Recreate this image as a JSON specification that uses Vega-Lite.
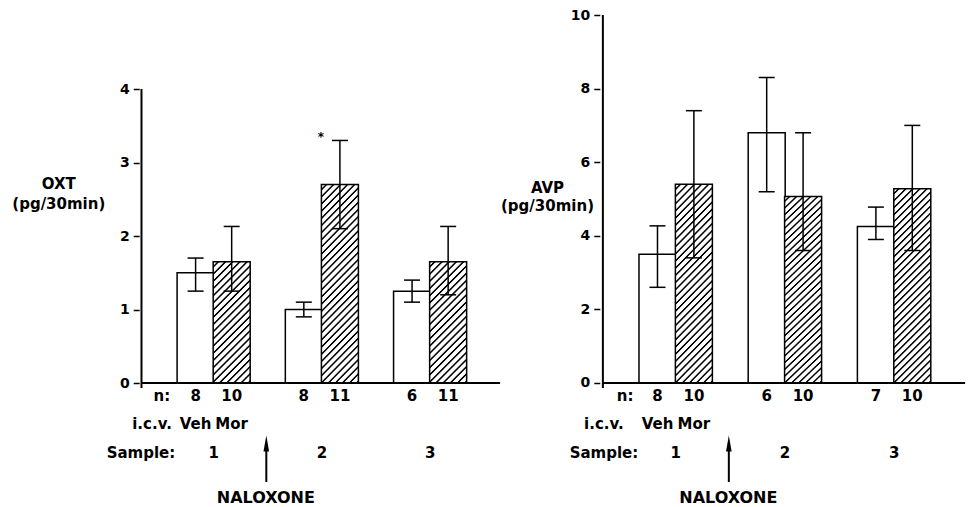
{
  "$schema": "https://vega.github.io/schema/vega-lite/v6.json",
  "padding": 0,
  "spacing": 0,
  "bounds": "flush",
  "background": "white",
  "config": {"view": {"stroke": null}, "font": "DejaVu Sans"},
  "datasets": {
    "oxt": [
      {"sample": 1, "trt": "Veh", "slot": 1.5, "mean": 1.5, "lo": 1.25, "hi": 1.7, "n": 8, "sig": ""},
      {"sample": 1, "trt": "Mor", "slot": 2.5, "mean": 1.65, "lo": 1.25, "hi": 2.13, "n": 10, "sig": ""},
      {"sample": 2, "trt": "Veh", "slot": 4.5, "mean": 1.0, "lo": 0.9, "hi": 1.1, "n": 8, "sig": ""},
      {"sample": 2, "trt": "Mor", "slot": 5.5, "mean": 2.7, "lo": 2.1, "hi": 3.3, "n": 11, "sig": "*"},
      {"sample": 3, "trt": "Veh", "slot": 7.5, "mean": 1.25, "lo": 1.1, "hi": 1.4, "n": 6, "sig": ""},
      {"sample": 3, "trt": "Mor", "slot": 8.5, "mean": 1.65, "lo": 1.2, "hi": 2.13, "n": 11, "sig": ""}
    ],
    "avp": [
      {"sample": 1, "trt": "Veh", "slot": 1.5, "mean": 3.5, "lo": 2.6, "hi": 4.27, "n": 8},
      {"sample": 1, "trt": "Mor", "slot": 2.5, "mean": 5.4, "lo": 3.4, "hi": 7.4, "n": 10},
      {"sample": 2, "trt": "Veh", "slot": 4.5, "mean": 6.8, "lo": 5.2, "hi": 8.3, "n": 6},
      {"sample": 2, "trt": "Mor", "slot": 5.5, "mean": 5.07, "lo": 3.6, "hi": 6.8, "n": 10},
      {"sample": 3, "trt": "Veh", "slot": 7.5, "mean": 4.25, "lo": 3.9, "hi": 4.78, "n": 7},
      {"sample": 3, "trt": "Mor", "slot": 8.5, "mean": 5.28, "lo": 3.6, "hi": 7.0, "n": 10}
    ]
  },
  "hconcat": [
    {
      "width": 510,
      "height": 507,
      "data": {"name": "oxt"},
      "layer": [
        {
          "transform": [{"filter": "datum.trt == 'Veh'"}],
          "mark": {"type": "bar", "size": 37, "fill": "white", "stroke": "black", "strokeWidth": 1.5},
          "encoding": {
            "x": {"field": "slot", "type": "quantitative", "scale": {"domain": [-3.783, 10.076], "nice": false, "zero": false}, "axis": null},
            "y": {"field": "mean", "type": "quantitative", "scale": {"domain": [-1.687, 5.211], "nice": false, "zero": false},
              "axis": {"values": [0, 1, 2, 3, 4], "format": "d", "offset": -139.2, "domain": false, "grid": false, "tickSize": 6, "tickWidth": 1.5, "tickColor": "black",
                "labelFont": "DejaVu Sans", "labelFontWeight": "bold", "labelFontSize": 14, "labelColor": "black", "labelPadding": 4,
                "title": ["OXT", "(pg/30min)"], "titleAngle": 0, "titleAlign": "center", "titleBaseline": "alphabetic", "titleX": -80.9, "titleY": 188.5,
                "titleLineHeight": 19.5, "titleFont": "DejaVu Sans", "titleFontSize": 15, "titleFontWeight": "bold", "titleColor": "black"}},
            "y2": {"datum": 0}
          }
        },
        {
          "transform": [{"filter": "datum.trt == 'Mor' && datum.mean < 2"}],
          "mark": {"type": "bar", "size": 37, "stroke": "black", "strokeWidth": 1.5,
            "fill": {"gradient": "linear", "x1": 0, "y1": 0, "x2": 0.3652, "y2": 1.1941, "stops": [
              {"offset": 0, "color": "#fff"},
              {"offset": 0.0227, "color": "#fff"}, {"offset": 0.0295, "color": "#000"}, {"offset": 0.0364, "color": "#000"}, {"offset": 0.0432, "color": "#fff"},
              {"offset": 0.0682, "color": "#fff"}, {"offset": 0.075, "color": "#000"}, {"offset": 0.0819, "color": "#000"}, {"offset": 0.0887, "color": "#fff"},
              {"offset": 0.1136, "color": "#fff"}, {"offset": 0.1204, "color": "#000"}, {"offset": 0.1273, "color": "#000"}, {"offset": 0.1341, "color": "#fff"},
              {"offset": 0.1591, "color": "#fff"}, {"offset": 0.1659, "color": "#000"}, {"offset": 0.1728, "color": "#000"}, {"offset": 0.1796, "color": "#fff"},
              {"offset": 0.2045, "color": "#fff"}, {"offset": 0.2113, "color": "#000"}, {"offset": 0.2182, "color": "#000"}, {"offset": 0.225, "color": "#fff"},
              {"offset": 0.25, "color": "#fff"}, {"offset": 0.2568, "color": "#000"}, {"offset": 0.2637, "color": "#000"}, {"offset": 0.2705, "color": "#fff"},
              {"offset": 0.2954, "color": "#fff"}, {"offset": 0.3022, "color": "#000"}, {"offset": 0.3091, "color": "#000"}, {"offset": 0.3159, "color": "#fff"},
              {"offset": 0.3409, "color": "#fff"}, {"offset": 0.3477, "color": "#000"}, {"offset": 0.3546, "color": "#000"}, {"offset": 0.3614, "color": "#fff"},
              {"offset": 0.3863, "color": "#fff"}, {"offset": 0.3931, "color": "#000"}, {"offset": 0.4, "color": "#000"}, {"offset": 0.4068, "color": "#fff"},
              {"offset": 0.4318, "color": "#fff"}, {"offset": 0.4386, "color": "#000"}, {"offset": 0.4455, "color": "#000"}, {"offset": 0.4523, "color": "#fff"},
              {"offset": 0.4772, "color": "#fff"}, {"offset": 0.484, "color": "#000"}, {"offset": 0.4909, "color": "#000"}, {"offset": 0.4977, "color": "#fff"},
              {"offset": 0.5227, "color": "#fff"}, {"offset": 0.5295, "color": "#000"}, {"offset": 0.5364, "color": "#000"}, {"offset": 0.5432, "color": "#fff"},
              {"offset": 0.5682, "color": "#fff"}, {"offset": 0.575, "color": "#000"}, {"offset": 0.5819, "color": "#000"}, {"offset": 0.5887, "color": "#fff"},
              {"offset": 0.6136, "color": "#fff"}, {"offset": 0.6204, "color": "#000"}, {"offset": 0.6273, "color": "#000"}, {"offset": 0.6341, "color": "#fff"},
              {"offset": 0.6591, "color": "#fff"}, {"offset": 0.6659, "color": "#000"}, {"offset": 0.6728, "color": "#000"}, {"offset": 0.6796, "color": "#fff"},
              {"offset": 0.7045, "color": "#fff"}, {"offset": 0.7113, "color": "#000"}, {"offset": 0.7182, "color": "#000"}, {"offset": 0.725, "color": "#fff"},
              {"offset": 0.75, "color": "#fff"}, {"offset": 0.7568, "color": "#000"}, {"offset": 0.7637, "color": "#000"}, {"offset": 0.7705, "color": "#fff"},
              {"offset": 0.7954, "color": "#fff"}, {"offset": 0.8022, "color": "#000"}, {"offset": 0.8091, "color": "#000"}, {"offset": 0.8159, "color": "#fff"},
              {"offset": 0.8409, "color": "#fff"}, {"offset": 0.8477, "color": "#000"}, {"offset": 0.8546, "color": "#000"}, {"offset": 0.8614, "color": "#fff"},
              {"offset": 0.8863, "color": "#fff"}, {"offset": 0.8931, "color": "#000"}, {"offset": 0.9, "color": "#000"}, {"offset": 0.9068, "color": "#fff"},
              {"offset": 0.9318, "color": "#fff"}, {"offset": 0.9386, "color": "#000"}, {"offset": 0.9455, "color": "#000"}, {"offset": 0.9523, "color": "#fff"},
              {"offset": 0.9772, "color": "#fff"}, {"offset": 0.984, "color": "#000"}, {"offset": 0.9909, "color": "#000"}, {"offset": 0.9977, "color": "#fff"},
              {"offset": 1, "color": "#fff"}
            ]}},
          "encoding": {
            "x": {"field": "slot", "type": "quantitative", "axis": null},
            "y": {"field": "mean", "type": "quantitative"},
            "y2": {"datum": 0}
          }
        },
        {
          "transform": [{"filter": "datum.trt == 'Mor' && datum.mean >= 2"}],
          "mark": {"type": "bar", "size": 37, "stroke": "black", "strokeWidth": 1.5,
            "fill": {"gradient": "linear", "x1": 0, "y1": 0, "x2": 0.2179, "y2": 1.1484, "stops": [
              {"offset": 0, "color": "#fff"},
              {"offset": 0.0152, "color": "#fff"}, {"offset": 0.0197, "color": "#000"}, {"offset": 0.0242, "color": "#000"}, {"offset": 0.0288, "color": "#fff"},
              {"offset": 0.0455, "color": "#fff"}, {"offset": 0.05, "color": "#000"}, {"offset": 0.0545, "color": "#000"}, {"offset": 0.0591, "color": "#fff"},
              {"offset": 0.0758, "color": "#fff"}, {"offset": 0.0803, "color": "#000"}, {"offset": 0.0848, "color": "#000"}, {"offset": 0.0894, "color": "#fff"},
              {"offset": 0.1061, "color": "#fff"}, {"offset": 0.1106, "color": "#000"}, {"offset": 0.1151, "color": "#000"}, {"offset": 0.1197, "color": "#fff"},
              {"offset": 0.1364, "color": "#fff"}, {"offset": 0.1409, "color": "#000"}, {"offset": 0.1454, "color": "#000"}, {"offset": 0.15, "color": "#fff"},
              {"offset": 0.1667, "color": "#fff"}, {"offset": 0.1712, "color": "#000"}, {"offset": 0.1757, "color": "#000"}, {"offset": 0.1803, "color": "#fff"},
              {"offset": 0.197, "color": "#fff"}, {"offset": 0.2015, "color": "#000"}, {"offset": 0.206, "color": "#000"}, {"offset": 0.2106, "color": "#fff"},
              {"offset": 0.2273, "color": "#fff"}, {"offset": 0.2318, "color": "#000"}, {"offset": 0.2363, "color": "#000"}, {"offset": 0.2409, "color": "#fff"},
              {"offset": 0.2576, "color": "#fff"}, {"offset": 0.2621, "color": "#000"}, {"offset": 0.2666, "color": "#000"}, {"offset": 0.2712, "color": "#fff"},
              {"offset": 0.2879, "color": "#fff"}, {"offset": 0.2924, "color": "#000"}, {"offset": 0.2969, "color": "#000"}, {"offset": 0.3015, "color": "#fff"},
              {"offset": 0.3182, "color": "#fff"}, {"offset": 0.3227, "color": "#000"}, {"offset": 0.3272, "color": "#000"}, {"offset": 0.3318, "color": "#fff"},
              {"offset": 0.3485, "color": "#fff"}, {"offset": 0.353, "color": "#000"}, {"offset": 0.3575, "color": "#000"}, {"offset": 0.3621, "color": "#fff"},
              {"offset": 0.3788, "color": "#fff"}, {"offset": 0.3833, "color": "#000"}, {"offset": 0.3878, "color": "#000"}, {"offset": 0.3924, "color": "#fff"},
              {"offset": 0.4091, "color": "#fff"}, {"offset": 0.4136, "color": "#000"}, {"offset": 0.4181, "color": "#000"}, {"offset": 0.4227, "color": "#fff"},
              {"offset": 0.4394, "color": "#fff"}, {"offset": 0.4439, "color": "#000"}, {"offset": 0.4484, "color": "#000"}, {"offset": 0.453, "color": "#fff"},
              {"offset": 0.4697, "color": "#fff"}, {"offset": 0.4742, "color": "#000"}, {"offset": 0.4787, "color": "#000"}, {"offset": 0.4833, "color": "#fff"},
              {"offset": 0.5, "color": "#fff"}, {"offset": 0.5045, "color": "#000"}, {"offset": 0.509, "color": "#000"}, {"offset": 0.5136, "color": "#fff"},
              {"offset": 0.5304, "color": "#fff"}, {"offset": 0.5349, "color": "#000"}, {"offset": 0.5394, "color": "#000"}, {"offset": 0.544, "color": "#fff"},
              {"offset": 0.5607, "color": "#fff"}, {"offset": 0.5652, "color": "#000"}, {"offset": 0.5697, "color": "#000"}, {"offset": 0.5743, "color": "#fff"},
              {"offset": 0.591, "color": "#fff"}, {"offset": 0.5955, "color": "#000"}, {"offset": 0.6, "color": "#000"}, {"offset": 0.6046, "color": "#fff"},
              {"offset": 0.6213, "color": "#fff"}, {"offset": 0.6258, "color": "#000"}, {"offset": 0.6303, "color": "#000"}, {"offset": 0.6349, "color": "#fff"},
              {"offset": 0.6516, "color": "#fff"}, {"offset": 0.6561, "color": "#000"}, {"offset": 0.6606, "color": "#000"}, {"offset": 0.6652, "color": "#fff"},
              {"offset": 0.6819, "color": "#fff"}, {"offset": 0.6864, "color": "#000"}, {"offset": 0.6909, "color": "#000"}, {"offset": 0.6955, "color": "#fff"},
              {"offset": 0.7122, "color": "#fff"}, {"offset": 0.7167, "color": "#000"}, {"offset": 0.7212, "color": "#000"}, {"offset": 0.7258, "color": "#fff"},
              {"offset": 0.7425, "color": "#fff"}, {"offset": 0.747, "color": "#000"}, {"offset": 0.7515, "color": "#000"}, {"offset": 0.7561, "color": "#fff"},
              {"offset": 0.7728, "color": "#fff"}, {"offset": 0.7773, "color": "#000"}, {"offset": 0.7818, "color": "#000"}, {"offset": 0.7864, "color": "#fff"},
              {"offset": 0.8031, "color": "#fff"}, {"offset": 0.8076, "color": "#000"}, {"offset": 0.8121, "color": "#000"}, {"offset": 0.8167, "color": "#fff"},
              {"offset": 0.8334, "color": "#fff"}, {"offset": 0.8379, "color": "#000"}, {"offset": 0.8424, "color": "#000"}, {"offset": 0.847, "color": "#fff"},
              {"offset": 0.8637, "color": "#fff"}, {"offset": 0.8682, "color": "#000"}, {"offset": 0.8727, "color": "#000"}, {"offset": 0.8773, "color": "#fff"},
              {"offset": 0.894, "color": "#fff"}, {"offset": 0.8985, "color": "#000"}, {"offset": 0.903, "color": "#000"}, {"offset": 0.9076, "color": "#fff"},
              {"offset": 0.9243, "color": "#fff"}, {"offset": 0.9288, "color": "#000"}, {"offset": 0.9333, "color": "#000"}, {"offset": 0.9379, "color": "#fff"},
              {"offset": 0.9546, "color": "#fff"}, {"offset": 0.9591, "color": "#000"}, {"offset": 0.9636, "color": "#000"}, {"offset": 0.9682, "color": "#fff"},
              {"offset": 0.9849, "color": "#fff"}, {"offset": 0.9894, "color": "#000"}, {"offset": 0.9939, "color": "#000"}, {"offset": 0.9985, "color": "#fff"},
              {"offset": 1, "color": "#fff"}
            ]}},
          "encoding": {
            "x": {"field": "slot", "type": "quantitative", "axis": null},
            "y": {"field": "mean", "type": "quantitative"},
            "y2": {"datum": 0}
          }
        },
        {
          "mark": {"type": "rule", "strokeWidth": 1.5, "color": "black"},
          "encoding": {
            "x": {"field": "slot", "type": "quantitative", "axis": null},
            "y": {"field": "lo", "type": "quantitative"},
            "y2": {"field": "hi"}
          }
        },
        {
          "mark": {"type": "tick", "orient": "horizontal", "size": 16, "thickness": 1.5, "color": "black", "opacity": 1},
          "encoding": {
            "x": {"field": "slot", "type": "quantitative", "axis": null},
            "y": {"field": "lo", "type": "quantitative"}
          }
        },
        {
          "mark": {"type": "tick", "orient": "horizontal", "size": 16, "thickness": 1.5, "color": "black", "opacity": 1},
          "encoding": {
            "x": {"field": "slot", "type": "quantitative", "axis": null},
            "y": {"field": "hi", "type": "quantitative"}
          }
        },
        {
          "transform": [{"filter": "datum.sig == '*'"}],
          "mark": {"type": "text", "font": "DejaVu Sans", "fontWeight": "bold", "fontSize": 12, "baseline": "alphabetic", "align": "center", "color": "black", "dx": -19, "dy": 1},
          "encoding": {
            "x": {"field": "slot", "type": "quantitative", "axis": null},
            "y": {"field": "hi", "type": "quantitative"},
            "text": {"field": "sig"}
          }
        },
        {
          "mark": {"type": "text", "font": "DejaVu Sans", "fontWeight": "bold", "fontSize": 15, "baseline": "alphabetic", "align": "center", "color": "black"},
          "encoding": {
            "x": {"field": "slot", "type": "quantitative", "axis": null},
            "y": {"datum": -0.245},
            "text": {"field": "n", "type": "nominal"}
          }
        },
        {
          "transform": [{"filter": "datum.sample == 1"}],
          "mark": {"type": "text", "font": "DejaVu Sans", "fontWeight": "bold", "fontSize": 15, "baseline": "alphabetic", "align": "center", "color": "black"},
          "encoding": {
            "x": {"field": "slot", "type": "quantitative", "axis": null},
            "y": {"datum": -0.626},
            "text": {"field": "trt", "type": "nominal"}
          }
        },
        {
          "transform": [{"aggregate": [{"op": "mean", "field": "slot", "as": "center"}], "groupby": ["sample"]}],
          "mark": {"type": "text", "font": "DejaVu Sans", "fontWeight": "bold", "fontSize": 15, "baseline": "alphabetic", "align": "center", "color": "black"},
          "encoding": {
            "x": {"field": "center", "type": "quantitative", "axis": null},
            "y": {"datum": -1.02},
            "text": {"field": "sample", "type": "nominal"}
          }
        },
        {
          "data": {"values": [{}]},
          "mark": {"type": "rule", "strokeWidth": 2, "color": "black"},
          "encoding": {
            "x": {"datum": 0, "axis": null},
            "y": {"datum": -0.068},
            "y2": {"datum": 4}
          }
        },
        {
          "data": {"values": [{}]},
          "mark": {"type": "rule", "strokeWidth": 2, "color": "black"},
          "encoding": {
            "x": {"datum": 0, "axis": null},
            "x2": {"datum": 9.94},
            "y": {"datum": 0}
          }
        },
        {
          "data": {"values": [{}]},
          "mark": {"type": "text", "text": "n:", "font": "DejaVu Sans", "fontWeight": "bold", "fontSize": 15, "baseline": "alphabetic", "align": "center", "color": "black"},
          "encoding": {"x": {"datum": 0.565, "axis": null}, "y": {"datum": -0.245}}
        },
        {
          "data": {"values": [{}]},
          "mark": {"type": "text", "text": "i.c.v.", "font": "DejaVu Sans", "fontWeight": "bold", "fontSize": 15, "baseline": "alphabetic", "align": "center", "color": "black"},
          "encoding": {"x": {"datum": 0.293, "axis": null}, "y": {"datum": -0.626}}
        },
        {
          "data": {"values": [{}]},
          "mark": {"type": "text", "text": "Sample:", "font": "DejaVu Sans", "fontWeight": "bold", "fontSize": 15, "baseline": "alphabetic", "align": "center", "color": "black"},
          "encoding": {"x": {"datum": -0.014, "axis": null}, "y": {"datum": -1.02}}
        },
        {
          "data": {"values": [{}]},
          "mark": {"type": "rule", "strokeWidth": 2, "color": "black"},
          "encoding": {"x": {"datum": 3.46, "axis": null}, "y": {"datum": -0.912}, "y2": {"datum": -1.347}}
        },
        {
          "data": {"values": [{}]},
          "mark": {"type": "point", "shape": "M-0.35,1L0,-1L0.35,1Z", "size": 256, "filled": true, "color": "black", "opacity": 1, "strokeWidth": 0},
          "encoding": {"x": {"datum": 3.46, "axis": null}, "y": {"datum": -0.823}}
        },
        {
          "data": {"values": [{}]},
          "mark": {"type": "text", "text": "NALOXONE", "font": "DejaVu Sans", "fontWeight": "bold", "fontSize": 16, "baseline": "alphabetic", "align": "center", "color": "black"},
          "encoding": {"x": {"datum": 3.446, "axis": null}, "y": {"datum": -1.633}}
        }
      ]
    },
    {
      "width": 467,
      "height": 507,
      "data": {"name": "avp"},
      "layer": [
        {
          "transform": [{"filter": "datum.trt == 'Veh'"}],
          "mark": {"type": "bar", "size": 37, "fill": "white", "stroke": "black", "strokeWidth": 1.5},
          "encoding": {
            "x": {"field": "slot", "type": "quantitative", "scale": {"domain": [-2.414, 10.14], "nice": false, "zero": false}, "axis": null},
            "y": {"field": "mean", "type": "quantitative", "scale": {"domain": [-3.37, 10.408], "nice": false, "zero": false},
              "axis": {"values": [0, 2, 4, 6, 8, 10], "format": "d", "offset": -89.8, "domain": false, "grid": false, "tickSize": 6, "tickWidth": 1.5, "tickColor": "black",
                "labelFont": "DejaVu Sans", "labelFontWeight": "bold", "labelFontSize": 14, "labelColor": "black", "labelPadding": 4,
                "title": ["AVP", "(pg/30min)"], "titleAngle": 0, "titleAlign": "center", "titleBaseline": "alphabetic", "titleX": -52.8, "titleY": 192.5,
                "titleLineHeight": 18, "titleFont": "DejaVu Sans", "titleFontSize": 15, "titleFontWeight": "bold", "titleColor": "black"}},
            "y2": {"datum": 0}
          }
        },
        {
          "transform": [{"filter": "datum.trt == 'Mor'"}],
          "mark": {"type": "bar", "size": 37, "stroke": "black", "strokeWidth": 1.5,
            "fill": {"gradient": "linear", "x1": 0, "y1": 0, "x2": 0.2179, "y2": 1.1484, "stops": [
              {"offset": 0, "color": "#fff"},
              {"offset": 0.0152, "color": "#fff"}, {"offset": 0.0197, "color": "#000"}, {"offset": 0.0242, "color": "#000"}, {"offset": 0.0288, "color": "#fff"},
              {"offset": 0.0455, "color": "#fff"}, {"offset": 0.05, "color": "#000"}, {"offset": 0.0545, "color": "#000"}, {"offset": 0.0591, "color": "#fff"},
              {"offset": 0.0758, "color": "#fff"}, {"offset": 0.0803, "color": "#000"}, {"offset": 0.0848, "color": "#000"}, {"offset": 0.0894, "color": "#fff"},
              {"offset": 0.1061, "color": "#fff"}, {"offset": 0.1106, "color": "#000"}, {"offset": 0.1151, "color": "#000"}, {"offset": 0.1197, "color": "#fff"},
              {"offset": 0.1364, "color": "#fff"}, {"offset": 0.1409, "color": "#000"}, {"offset": 0.1454, "color": "#000"}, {"offset": 0.15, "color": "#fff"},
              {"offset": 0.1667, "color": "#fff"}, {"offset": 0.1712, "color": "#000"}, {"offset": 0.1757, "color": "#000"}, {"offset": 0.1803, "color": "#fff"},
              {"offset": 0.197, "color": "#fff"}, {"offset": 0.2015, "color": "#000"}, {"offset": 0.206, "color": "#000"}, {"offset": 0.2106, "color": "#fff"},
              {"offset": 0.2273, "color": "#fff"}, {"offset": 0.2318, "color": "#000"}, {"offset": 0.2363, "color": "#000"}, {"offset": 0.2409, "color": "#fff"},
              {"offset": 0.2576, "color": "#fff"}, {"offset": 0.2621, "color": "#000"}, {"offset": 0.2666, "color": "#000"}, {"offset": 0.2712, "color": "#fff"},
              {"offset": 0.2879, "color": "#fff"}, {"offset": 0.2924, "color": "#000"}, {"offset": 0.2969, "color": "#000"}, {"offset": 0.3015, "color": "#fff"},
              {"offset": 0.3182, "color": "#fff"}, {"offset": 0.3227, "color": "#000"}, {"offset": 0.3272, "color": "#000"}, {"offset": 0.3318, "color": "#fff"},
              {"offset": 0.3485, "color": "#fff"}, {"offset": 0.353, "color": "#000"}, {"offset": 0.3575, "color": "#000"}, {"offset": 0.3621, "color": "#fff"},
              {"offset": 0.3788, "color": "#fff"}, {"offset": 0.3833, "color": "#000"}, {"offset": 0.3878, "color": "#000"}, {"offset": 0.3924, "color": "#fff"},
              {"offset": 0.4091, "color": "#fff"}, {"offset": 0.4136, "color": "#000"}, {"offset": 0.4181, "color": "#000"}, {"offset": 0.4227, "color": "#fff"},
              {"offset": 0.4394, "color": "#fff"}, {"offset": 0.4439, "color": "#000"}, {"offset": 0.4484, "color": "#000"}, {"offset": 0.453, "color": "#fff"},
              {"offset": 0.4697, "color": "#fff"}, {"offset": 0.4742, "color": "#000"}, {"offset": 0.4787, "color": "#000"}, {"offset": 0.4833, "color": "#fff"},
              {"offset": 0.5, "color": "#fff"}, {"offset": 0.5045, "color": "#000"}, {"offset": 0.509, "color": "#000"}, {"offset": 0.5136, "color": "#fff"},
              {"offset": 0.5304, "color": "#fff"}, {"offset": 0.5349, "color": "#000"}, {"offset": 0.5394, "color": "#000"}, {"offset": 0.544, "color": "#fff"},
              {"offset": 0.5607, "color": "#fff"}, {"offset": 0.5652, "color": "#000"}, {"offset": 0.5697, "color": "#000"}, {"offset": 0.5743, "color": "#fff"},
              {"offset": 0.591, "color": "#fff"}, {"offset": 0.5955, "color": "#000"}, {"offset": 0.6, "color": "#000"}, {"offset": 0.6046, "color": "#fff"},
              {"offset": 0.6213, "color": "#fff"}, {"offset": 0.6258, "color": "#000"}, {"offset": 0.6303, "color": "#000"}, {"offset": 0.6349, "color": "#fff"},
              {"offset": 0.6516, "color": "#fff"}, {"offset": 0.6561, "color": "#000"}, {"offset": 0.6606, "color": "#000"}, {"offset": 0.6652, "color": "#fff"},
              {"offset": 0.6819, "color": "#fff"}, {"offset": 0.6864, "color": "#000"}, {"offset": 0.6909, "color": "#000"}, {"offset": 0.6955, "color": "#fff"},
              {"offset": 0.7122, "color": "#fff"}, {"offset": 0.7167, "color": "#000"}, {"offset": 0.7212, "color": "#000"}, {"offset": 0.7258, "color": "#fff"},
              {"offset": 0.7425, "color": "#fff"}, {"offset": 0.747, "color": "#000"}, {"offset": 0.7515, "color": "#000"}, {"offset": 0.7561, "color": "#fff"},
              {"offset": 0.7728, "color": "#fff"}, {"offset": 0.7773, "color": "#000"}, {"offset": 0.7818, "color": "#000"}, {"offset": 0.7864, "color": "#fff"},
              {"offset": 0.8031, "color": "#fff"}, {"offset": 0.8076, "color": "#000"}, {"offset": 0.8121, "color": "#000"}, {"offset": 0.8167, "color": "#fff"},
              {"offset": 0.8334, "color": "#fff"}, {"offset": 0.8379, "color": "#000"}, {"offset": 0.8424, "color": "#000"}, {"offset": 0.847, "color": "#fff"},
              {"offset": 0.8637, "color": "#fff"}, {"offset": 0.8682, "color": "#000"}, {"offset": 0.8727, "color": "#000"}, {"offset": 0.8773, "color": "#fff"},
              {"offset": 0.894, "color": "#fff"}, {"offset": 0.8985, "color": "#000"}, {"offset": 0.903, "color": "#000"}, {"offset": 0.9076, "color": "#fff"},
              {"offset": 0.9243, "color": "#fff"}, {"offset": 0.9288, "color": "#000"}, {"offset": 0.9333, "color": "#000"}, {"offset": 0.9379, "color": "#fff"},
              {"offset": 0.9546, "color": "#fff"}, {"offset": 0.9591, "color": "#000"}, {"offset": 0.9636, "color": "#000"}, {"offset": 0.9682, "color": "#fff"},
              {"offset": 0.9849, "color": "#fff"}, {"offset": 0.9894, "color": "#000"}, {"offset": 0.9939, "color": "#000"}, {"offset": 0.9985, "color": "#fff"},
              {"offset": 1, "color": "#fff"}
            ]}},
          "encoding": {
            "x": {"field": "slot", "type": "quantitative", "axis": null},
            "y": {"field": "mean", "type": "quantitative"},
            "y2": {"datum": 0}
          }
        },
        {
          "mark": {"type": "rule", "strokeWidth": 1.5, "color": "black"},
          "encoding": {
            "x": {"field": "slot", "type": "quantitative", "axis": null},
            "y": {"field": "lo", "type": "quantitative"},
            "y2": {"field": "hi"}
          }
        },
        {
          "mark": {"type": "tick", "orient": "horizontal", "size": 16, "thickness": 1.5, "color": "black", "opacity": 1},
          "encoding": {
            "x": {"field": "slot", "type": "quantitative", "axis": null},
            "y": {"field": "lo", "type": "quantitative"}
          }
        },
        {
          "mark": {"type": "tick", "orient": "horizontal", "size": 16, "thickness": 1.5, "color": "black", "opacity": 1},
          "encoding": {
            "x": {"field": "slot", "type": "quantitative", "axis": null},
            "y": {"field": "hi", "type": "quantitative"}
          }
        },
        {
          "mark": {"type": "text", "font": "DejaVu Sans", "fontWeight": "bold", "fontSize": 15, "baseline": "alphabetic", "align": "center", "color": "black"},
          "encoding": {
            "x": {"field": "slot", "type": "quantitative", "axis": null},
            "y": {"datum": -0.489},
            "text": {"field": "n", "type": "nominal"}
          }
        },
        {
          "transform": [{"filter": "datum.sample == 1"}],
          "mark": {"type": "text", "font": "DejaVu Sans", "fontWeight": "bold", "fontSize": 15, "baseline": "alphabetic", "align": "center", "color": "black"},
          "encoding": {
            "x": {"field": "slot", "type": "quantitative", "axis": null},
            "y": {"datum": -1.25},
            "text": {"field": "trt", "type": "nominal"}
          }
        },
        {
          "transform": [{"aggregate": [{"op": "mean", "field": "slot", "as": "center"}], "groupby": ["sample"]}],
          "mark": {"type": "text", "font": "DejaVu Sans", "fontWeight": "bold", "fontSize": 15, "baseline": "alphabetic", "align": "center", "color": "black"},
          "encoding": {
            "x": {"field": "center", "type": "quantitative", "axis": null},
            "y": {"datum": -2.038},
            "text": {"field": "sample", "type": "nominal"}
          }
        },
        {
          "data": {"values": [{}]},
          "mark": {"type": "rule", "strokeWidth": 2, "color": "black"},
          "encoding": {
            "x": {"datum": 0, "axis": null},
            "y": {"datum": -0.136},
            "y2": {"datum": 10}
          }
        },
        {
          "data": {"values": [{}]},
          "mark": {"type": "rule", "strokeWidth": 2, "color": "black"},
          "encoding": {
            "x": {"datum": 0, "axis": null},
            "x2": {"datum": 9.95},
            "y": {"datum": 0}
          }
        },
        {
          "data": {"values": [{}]},
          "mark": {"type": "text", "text": "n:", "font": "DejaVu Sans", "fontWeight": "bold", "fontSize": 15, "baseline": "alphabetic", "align": "center", "color": "black"},
          "encoding": {"x": {"datum": 0.61, "axis": null}, "y": {"datum": -0.489}}
        },
        {
          "data": {"values": [{}]},
          "mark": {"type": "text", "text": "i.c.v.", "font": "DejaVu Sans", "fontWeight": "bold", "fontSize": 15, "baseline": "alphabetic", "align": "center", "color": "black"},
          "encoding": {"x": {"datum": 0.03, "axis": null}, "y": {"datum": -1.25}}
        },
        {
          "data": {"values": [{}]},
          "mark": {"type": "text", "text": "Sample:", "font": "DejaVu Sans", "fontWeight": "bold", "fontSize": 15, "baseline": "alphabetic", "align": "center", "color": "black"},
          "encoding": {"x": {"datum": 0.03, "axis": null}, "y": {"datum": -2.038}}
        },
        {
          "data": {"values": [{}]},
          "mark": {"type": "rule", "strokeWidth": 2, "color": "black"},
          "encoding": {"x": {"datum": 3.46, "axis": null}, "y": {"datum": -1.82}, "y2": {"datum": -2.69}}
        },
        {
          "data": {"values": [{}]},
          "mark": {"type": "point", "shape": "M-0.35,1L0,-1L0.35,1Z", "size": 256, "filled": true, "color": "black", "opacity": 1, "strokeWidth": 0},
          "encoding": {"x": {"datum": 3.46, "axis": null}, "y": {"datum": -1.644}}
        },
        {
          "data": {"values": [{}]},
          "mark": {"type": "text", "text": "NALOXONE", "font": "DejaVu Sans", "fontWeight": "bold", "fontSize": 16, "baseline": "alphabetic", "align": "center", "color": "black"},
          "encoding": {"x": {"datum": 3.446, "axis": null}, "y": {"datum": -3.261}}
        }
      ]
    }
  ]
}
